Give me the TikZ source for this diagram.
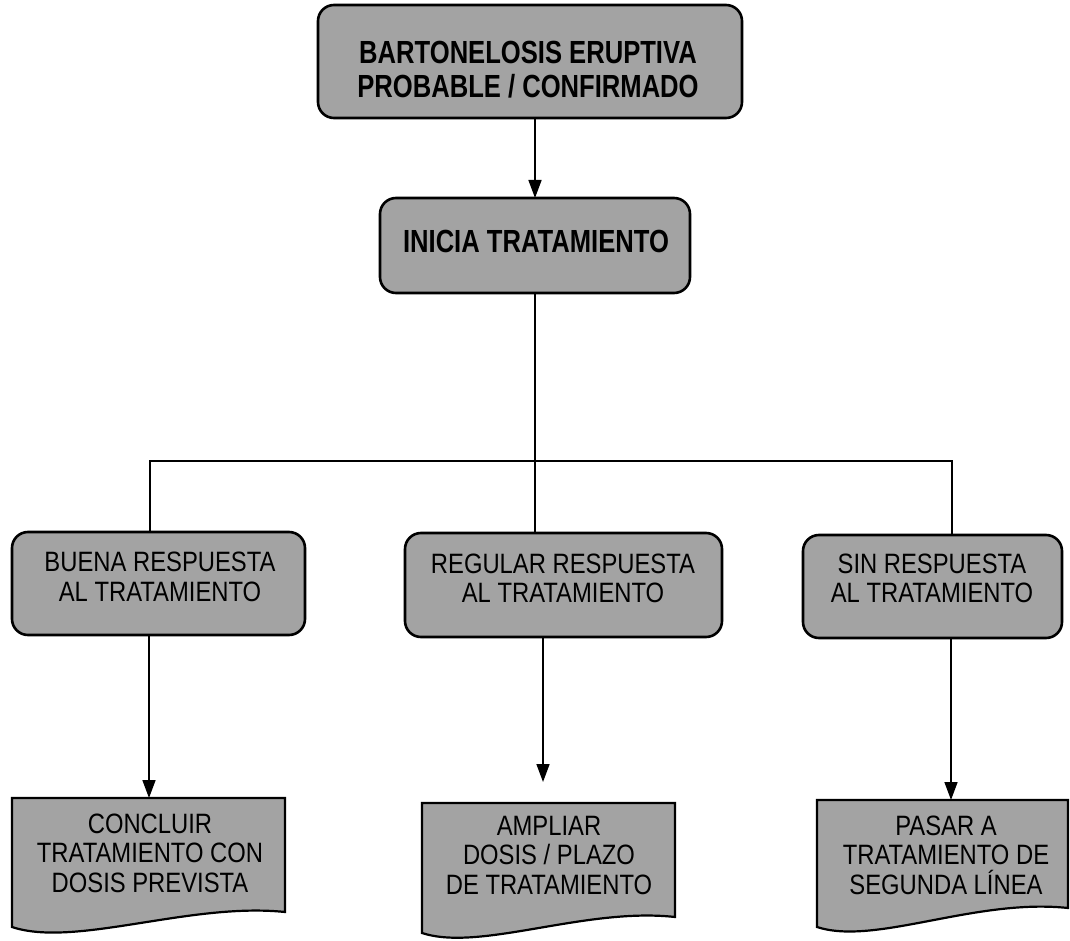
\documentclass[tikz,border=0pt]{standalone}
\usepackage{fontspec}
\setmainfont{Liberation Sans}
\newfontfamily\condreg[FakeStretch=0.85]{Liberation Sans}
\newfontfamily\condbold[FakeStretch=0.80]{Liberation Sans Bold}
\usetikzlibrary{arrows.meta}
\definecolor{boxgray}{gray}{0.64}
\begin{document}
\begin{tikzpicture}[x=1pt,y=-1pt,
  rbox/.style={draw=black, line width=2.6pt, fill=boxgray, rounded corners=16pt, inner sep=0pt, outer sep=0pt},
  btxt/.style={align=center, inner sep=0pt, font=\condbold\fontsize{32}{34}\selectfont},
  ntxt/.style={align=center, inner sep=0pt, font=\condreg\fontsize{28}{29.5}\selectfont},
  docshape/.style={draw=black, line width=2.2pt, fill=boxgray},
  conn/.style={line width=1.6pt},
  arr/.style={conn, -{Triangle[length=18pt,width=13pt]}}]
\useasboundingbox (0,0) rectangle (1070,941);
% main boxes
\node[rbox, minimum width=424pt, minimum height=113pt] (top) at (530,61.5) {};
\node[btxt] (topT) at (528,70) {BARTONELOSIS ERUPTIVA\\PROBABLE / CONFIRMADO};
\node[rbox, minimum width=310pt, minimum height=95pt] (ini) at (535,245.5) {};
\node[btxt] (iniT) at (536,241) {INICIA TRATAMIENTO};
\node[rbox, minimum width=293pt, minimum height=103pt] (lb) at (158.5,583.5) {};
\node[ntxt] (lbT) at (160,577) {BUENA RESPUESTA\\AL TRATAMIENTO};
\node[rbox, minimum width=317pt, minimum height=104pt] (mb) at (563.5,585) {};
\node[ntxt] (mbT) at (563,578.5) {REGULAR RESPUESTA\\AL TRATAMIENTO};
\node[rbox, minimum width=259pt, minimum height=103pt] (rb) at (932.5,586.5) {};
\node[ntxt] (rbT) at (932,578.5) {SIN RESPUESTA\\AL TRATAMIENTO};
% document shapes
\draw[docshape] (12,798) -- (285,798) -- (285,912) .. controls (190,902) and (75,948) .. (12,927) -- cycle;
\draw[docshape] (422,803) -- (675,803) -- (675,917) .. controls (585,907) and (480,952) .. (422,933) -- cycle;
\draw[docshape] (817,800) -- (1068,800) -- (1068,908) .. controls (975,898) and (875,946) .. (817,927) -- cycle;
\node[ntxt] (dAT) at (150,853) {CONCLUIR\\TRATAMIENTO CON\\DOSIS PREVISTA};
\node[ntxt] (dBT) at (549,855) {AMPLIAR\\DOSIS / PLAZO\\DE TRATAMIENTO};
\node[ntxt] (dCT) at (946,855) {PASAR A\\TRATAMIENTO DE\\SEGUNDA LÍNEA};
\coordinate (dA) at (149,798);
\coordinate (dB) at (543,782);
\coordinate (dC) at (951,800);
\coordinate (hl) at (150,461);
\coordinate (hr) at (952,461);
% connectors
\draw[arr] (top.south -| ini.north) -- (ini.north);
\draw[conn] (ini.south) -- (ini.south |- mb.north);
\draw[conn] (lb.north -| hl) -- (hl) -- (hr) -- (rb.north -| hr);
\draw[arr] (lb.south -| dA) -- (dA);
\draw[arr] (mb.south -| dB) -- (dB);
\draw[arr] (rb.south -| dC) -- (dC);
\end{tikzpicture}
\end{document}
